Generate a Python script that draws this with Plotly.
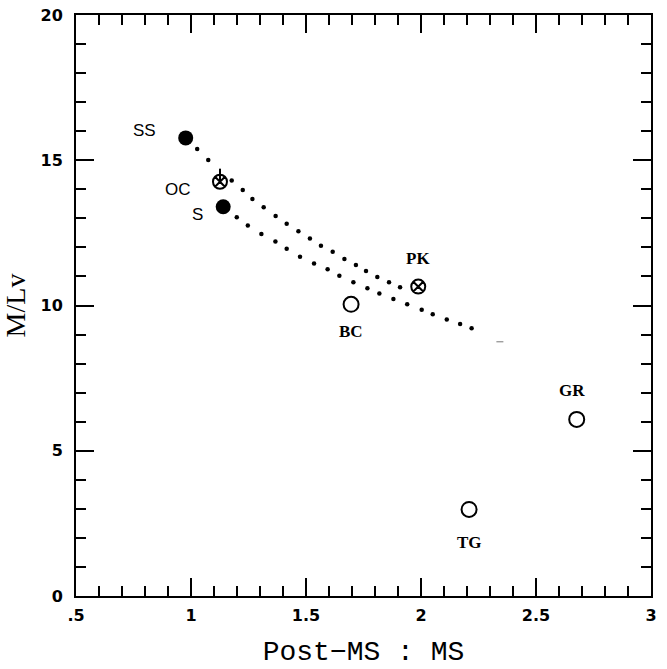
import plotly.graph_objects as go

# Cluster points (Post-MS : MS, M/Lv)
filled_names = ["SS", "S"]
filled_x = [0.977, 1.140]
filled_y = [15.77, 13.40]

cross_names = ["OC", "PK"]
cross_x = [1.126, 1.988]
cross_y = [14.26, 10.65]
cross_err_plus = [0.45, 0.0]

open_names = ["BC", "GR", "TG"]
open_x = [1.696, 2.677, 2.209]
open_y = [10.04, 6.08, 2.98]

# Dotted model curves (dots)
upper_x = [1.027, 1.075, 1.177, 1.225, 1.267, 1.316, 1.368, 1.416, 1.467, 1.517,
           1.565, 1.616, 1.667, 1.717, 1.761, 1.810, 1.861, 1.909]
upper_y = [15.39, 15.01, 14.30, 13.98, 13.67, 13.38, 13.08, 12.81, 12.56, 12.31,
           12.06, 11.85, 11.60, 11.39, 11.19, 10.98, 10.80, 10.63]
lower_x = [1.199, 1.247, 1.306, 1.367, 1.416, 1.474, 1.535, 1.594, 1.645, 1.706,
           1.767, 1.819, 1.880, 1.940, 2.003, 2.051, 2.112, 2.170, 2.220]
lower_y = [13.04, 12.75, 12.46, 12.20, 11.95, 11.68, 11.45, 11.25, 11.02, 10.80,
           10.59, 10.41, 10.22, 10.04, 9.85, 9.70, 9.52, 9.36, 9.22]
stray_x = [2.343]
stray_y = [8.75]

x_label_alias = {0.5: ".5"}

fig = go.Figure()

fig.add_trace(go.Scatter(x=upper_x, y=upper_y, mode="markers",
                         marker=dict(size=4.5, color="black"), hoverinfo="skip"))
fig.add_trace(go.Scatter(x=lower_x, y=lower_y, mode="markers",
                         marker=dict(size=4.5, color="black"), hoverinfo="skip"))
fig.add_trace(go.Scatter(x=stray_x, y=stray_y, mode="markers",
                         marker=dict(symbol="line-ew", size=5, line=dict(width=1, color="#777")),
                         hoverinfo="skip"))

fig.add_trace(go.Scatter(x=filled_x, y=filled_y, mode="markers",
                         marker=dict(size=15, color="black", line=dict(width=0)),
                         text=filled_names))
fig.add_trace(go.Scatter(x=cross_x, y=cross_y, mode="markers",
                         marker=dict(symbol="circle-x-open", size=14, color="black",
                                     line=dict(width=2, color="black")),
                         error_y=dict(type="data", symmetric=False, array=cross_err_plus,
                                      arrayminus=[0, 0], color="black", thickness=2, width=0),
                         text=cross_names))
fig.add_trace(go.Scatter(x=open_x, y=open_y, mode="markers",
                         marker=dict(symbol="circle-open", size=15, color="black",
                                     line=dict(width=2, color="black")),
                         text=open_names))

sans = dict(family="Liberation Sans, Arial, sans-serif", size=17, color="black")
serif = dict(family="Liberation Serif, Times New Roman, serif", size=17, color="black")

# labels: (name, x, y, xshift, yshift, font)
label_specs = [
    ("SS", filled_x[0], filled_y[0], -41, 7, sans),
    ("S", filled_x[1], filled_y[1], -26, -8, sans),
    ("OC", cross_x[0], cross_y[0], -42, -8, sans),
    ("<b>PK</b>", cross_x[1], cross_y[1], 0, 28, serif),
    ("<b>BC</b>", open_x[0], open_y[0], 0, -27, serif),
    ("<b>GR</b>", open_x[1], open_y[1], -5, 29, serif),
    ("<b>TG</b>", open_x[2], open_y[2], 0, -33, serif),
]
for name, x, y, xs, ys, f in label_specs:
    fig.add_annotation(x=x, y=y, text=name, showarrow=False, xshift=xs, yshift=ys, font=f)

tickfont = dict(family="DejaVu Sans, sans-serif", size=16, color="black", weight="bold")
axis_common = dict(showline=True, linecolor="black", linewidth=2, mirror="allticks",
                   ticks="inside", ticklen=18, tickwidth=1.5, tickcolor="black",
                   showgrid=False, zeroline=False, tickfont=tickfont, automargin=False)

fig.update_xaxes(range=[0.5, 3], tickmode="linear", tick0=0.5, dtick=0.5,
                 labelalias=x_label_alias, ticklabelstandoff=4,
                 minor=dict(tickmode="linear", dtick=0.1, ticks="inside", ticklen=10,
                            tickwidth=1.5, tickcolor="black", showgrid=False),
                 title=dict(text="Post\u2212MS : MS", standoff=16,
                            font=dict(family="Liberation Mono, Courier New, monospace",
                                      size=28, color="black")),
                 **axis_common)
fig.update_yaxes(range=[0, 20], tickmode="linear", tick0=0, dtick=5,
                 ticklabelstandoff=8,
                 minor=dict(tickmode="linear", dtick=1, ticks="inside", ticklen=10,
                            tickwidth=1.5, tickcolor="black", showgrid=False),
                 title=dict(text="M/Lv", standoff=10,
                            font=dict(family="Liberation Serif, Times New Roman, serif",
                                      size=28, color="black")),
                 **axis_common)

fig.update_layout(width=667, height=669, showlegend=False,
                  plot_bgcolor="white", paper_bgcolor="white",
                  margin=dict(l=76, r=16, t=15, b=73))

fig.write_html("out.html")
